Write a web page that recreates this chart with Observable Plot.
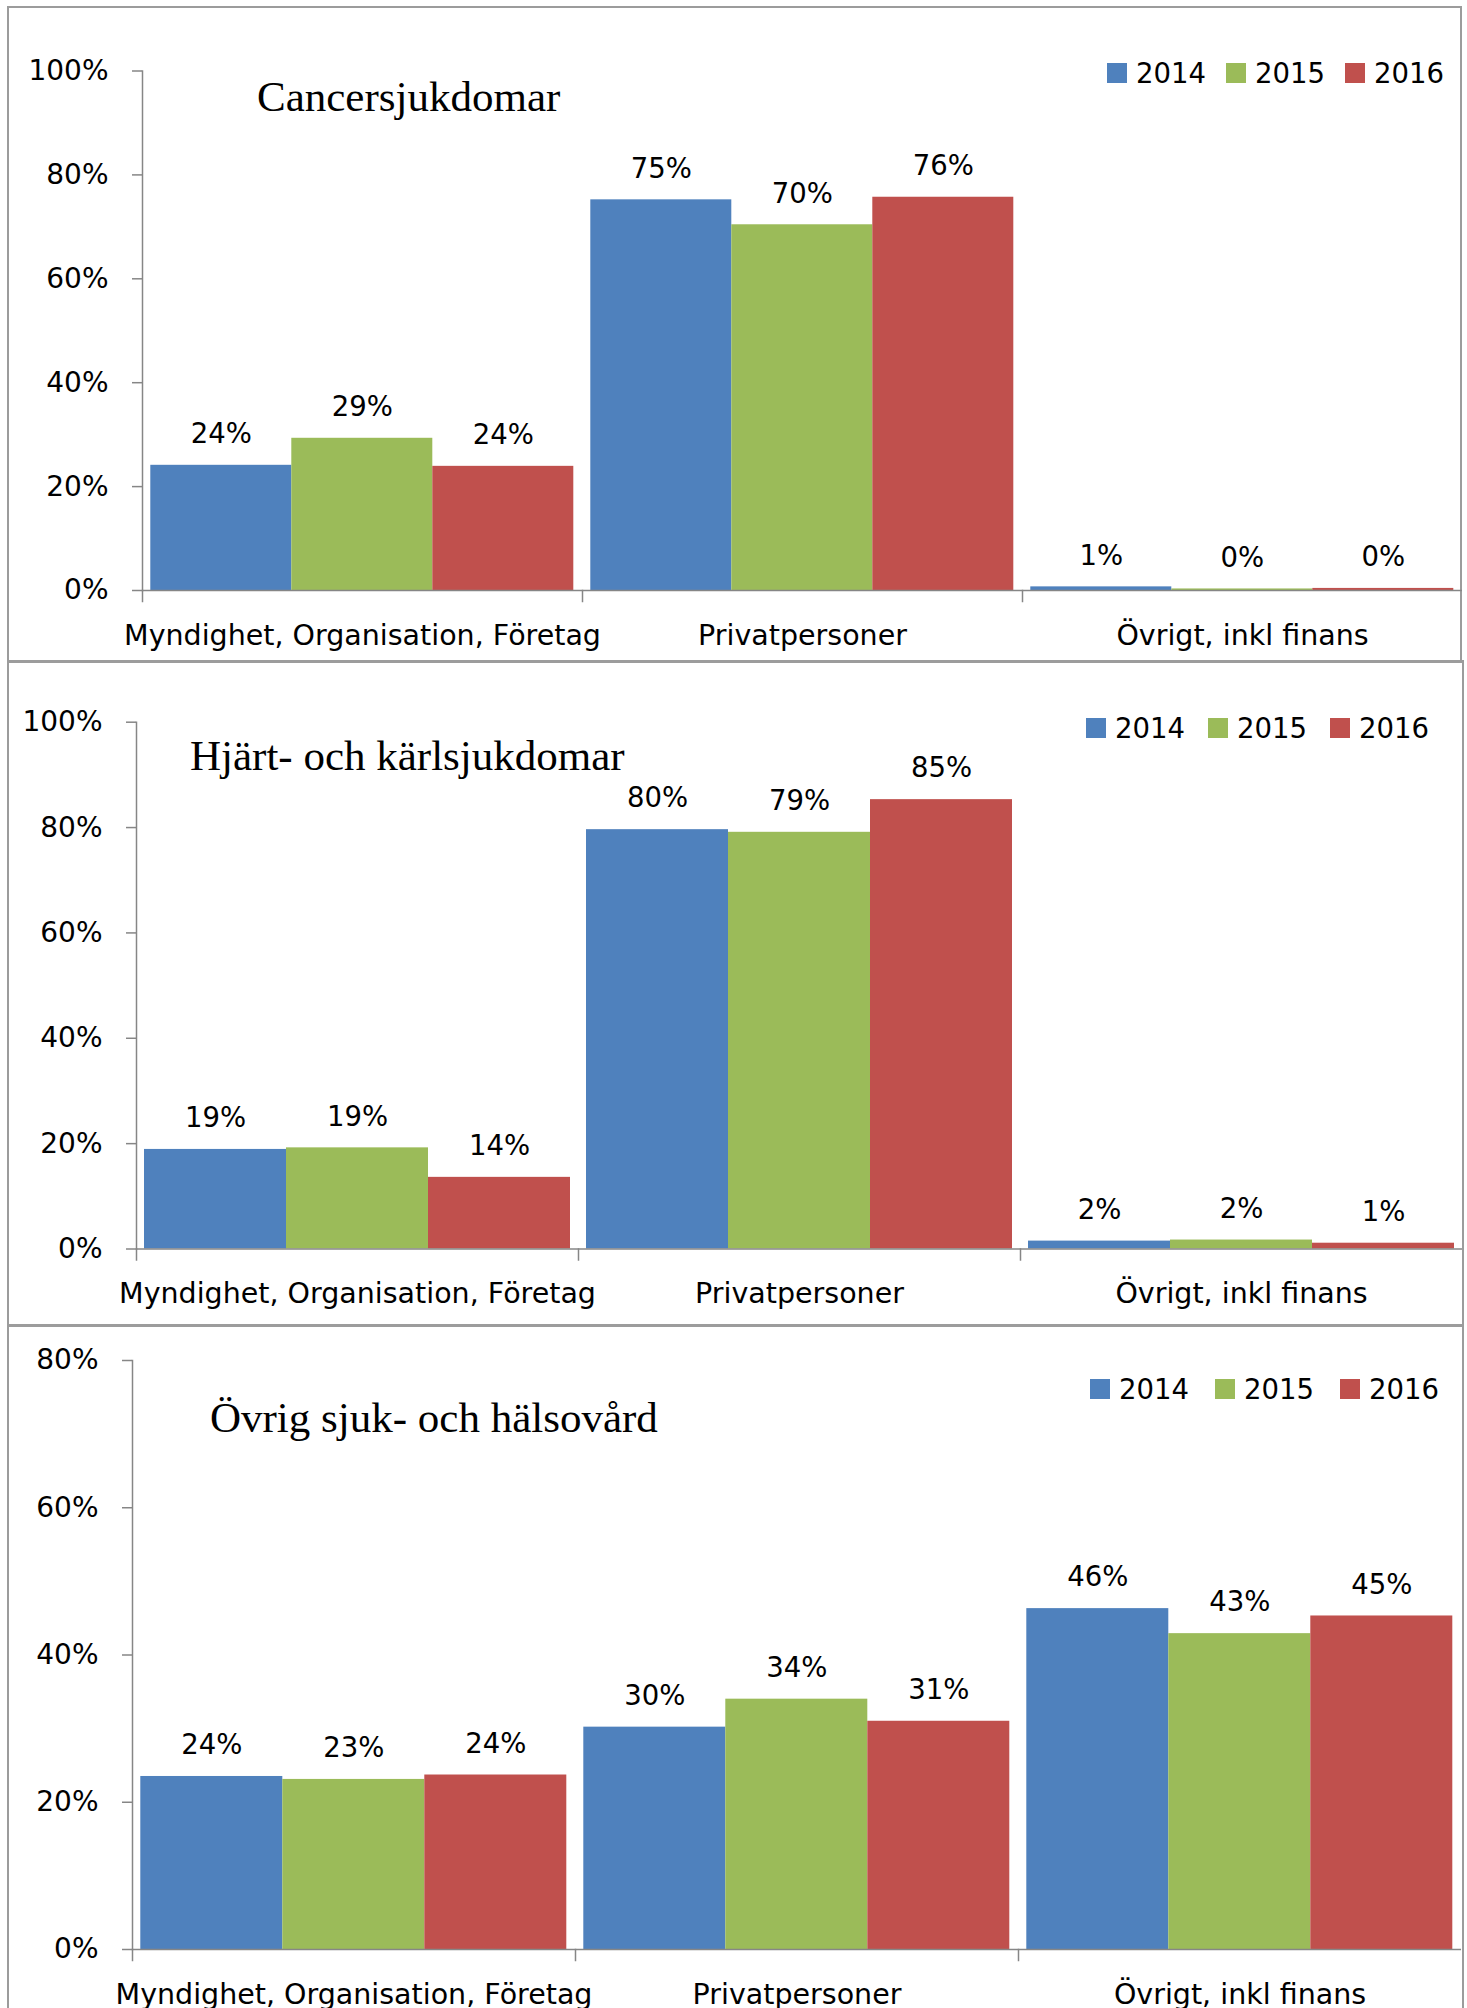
<!DOCTYPE html>
<html>
<head>
<meta charset="utf-8">
<script src="https://cdn.jsdelivr.net/npm/d3@7"></script>
<script src="https://cdn.jsdelivr.net/npm/@observablehq/plot@0.6"></script>
<style>
  html, body { margin: 0; padding: 0; background: #fff; }
  body { width: 1467px; height: 2008px; overflow: hidden; position: relative; font-family: "DejaVu Sans", sans-serif; }
  .panel { position: absolute; border: 2px solid #9c9c9c; box-sizing: border-box; }
  .chart { position: absolute; left: 0; }
  .title { position: absolute; font-family: "Liberation Serif", "Times New Roman", serif; font-size: 43px; line-height: 43px; color: #000; white-space: nowrap; }
  .lg-item { position: absolute; display: flex; align-items: center; font-size: 27.5px; line-height: 28px; color: #000; white-space: nowrap; }
  .lg-sw { width: 20px; height: 20px; margin-right: 9px; }
</style>
</head>
<body>
<div id="root"></div>
<script>
// ---------------- data ----------------
const categories = ["Myndighet, Organisation, Företag", "Privatpersoner", "Övrigt, inkl finans"];
const years = ["2014", "2015", "2016"];
const colors = ["#4F81BD", "#9BBB59", "#C0504D"];
const panelTitles = ["Cancersjukdomar", "Hjärt- och kärlsjukdomar", "Övrig sjuk- och hälsovård"];

// percent values: rows = categories, columns = years 2014, 2015, 2016
const cancerValues = [[24.1, 29.3, 23.9], [75.2, 70.4, 75.7], [0.7, 0.3, 0.4]];
const heartValues  = [[18.9, 19.2, 13.6], [79.6, 79.1, 85.3], [1.5, 1.7, 1.1]];
const otherValues  = [[23.5, 23.1, 23.7], [30.2, 34.0, 31.0], [46.3, 42.9, 45.3]];

const yTicksFull = [0, 20, 40, 60, 80, 100];
const yTicksOther = [0, 20, 40, 60, 80];

// ---------------- layout ----------------
const panels = [
  { values: cancerValues, yMax: 100, ticks: yTicksFull, title: panelTitles[0],
    box: {left: 7, top: 6, width: 1455, height: 657},
    svgTop: 7, height: 654, mt: 63.5, mb: 71, ml: 141.7,
    titlePos: {left: 257, baseline: 110}, legend: {left: 1107, cy: 73, step: 119} },
  { values: heartValues, yMax: 100, ticks: yTicksFull, title: panelTitles[1],
    box: {left: 7, top: 660, width: 1457, height: 666},
    svgTop: 661, height: 664, mt: 60.7, mb: 76.5, ml: 135,
    titlePos: {left: 190, baseline: 769}, legend: {left: 1086, cy: 728, step: 122} },
  { values: otherValues, yMax: 80, ticks: yTicksOther, title: panelTitles[2],
    box: {left: 7, top: 1325, width: 1457, height: 720},
    svgTop: 1326, height: 682, mt: 34, mb: 59, ml: 130.7,
    titlePos: {left: 210, baseline: 1431}, legend: {left: 1090, cy: 1389, step: 125} }
];

const root = document.getElementById("root");
const axisGray = "#868686";

function makeChart(p) {
  const data = [];
  categories.forEach((c, i) => years.forEach((y, j) => data.push({category: c, year: y, value: p.values[i][j]})));
  const frameH = p.height - p.mt - p.mb;
  return Plot.plot({
    width: 1467,
    height: p.height,
    marginTop: p.mt,
    marginBottom: p.mb,
    marginLeft: p.ml,
    marginRight: 5,
    style: {fontFamily: "DejaVu Sans", fontSize: "28px", color: "#000", background: "transparent", overflow: "visible"},
    fx: {domain: categories, padding: 0, label: null},
    x: {domain: years, paddingInner: 0, paddingOuter: 0.05, axis: null},
    y: {domain: [0, p.yMax]},
    color: {domain: years, range: colors},
    marks: [
      Plot.barY(data, {fx: "category", x: "year", y: "value", fill: "year"}),
      Plot.text(data, {fx: "category", x: "year", y: "value", text: d => Math.round(d.value) + "%",
        dy: -31, lineAnchor: "middle", fontSize: 27.5, fill: "#000"}),
      Plot.ruleY([0], {stroke: axisGray, strokeWidth: 1.5}),
      Plot.frame({anchor: "left", insetTop: frameH, insetBottom: -11, stroke: axisGray, strokeWidth: 1.5}),
      Plot.frame({anchor: "left", facet: "super", stroke: axisGray, strokeWidth: 1.5}),
      Plot.axisY({ticks: p.ticks, tickSize: 10, tickPadding: 24, tickFormat: d => d + "%",
        stroke: axisGray, strokeWidth: 1.5, fill: "#000", label: null, fontSize: 28}),
      Plot.axisFx({anchor: "bottom", tickSize: 0, tickPadding: 34, label: null, fontSize: 28.5, fill: "#000"})
    ]
  });
}

panels.forEach((p, k) => {
  const box = document.createElement("div");
  box.className = "panel";
  Object.assign(box.style, {left: p.box.left + "px", top: p.box.top + "px", width: p.box.width + "px", height: p.box.height + "px"});
  root.appendChild(box);

  const wrap = document.createElement("div");
  wrap.className = "chart";
  wrap.style.top = p.svgTop + "px";
  wrap.appendChild(makeChart(p));
  root.appendChild(wrap);

  const t = document.createElement("div");
  t.className = "title";
  t.textContent = p.title;
  t.style.left = p.titlePos.left + "px";
  t.style.top = (p.titlePos.baseline - 35) + "px";
  root.appendChild(t);

  years.forEach((y, j) => {
    const it = document.createElement("div");
    it.className = "lg-item";
    it.style.left = (p.legend.left + j * p.legend.step) + "px";
    it.style.top = (p.legend.cy - 14) + "px";
    const sw = document.createElement("span");
    sw.className = "lg-sw";
    sw.style.background = colors[j];
    const tx = document.createElement("span");
    tx.textContent = y;
    it.appendChild(sw);
    it.appendChild(tx);
    root.appendChild(it);
  });
});
</script>
</body>
</html>
